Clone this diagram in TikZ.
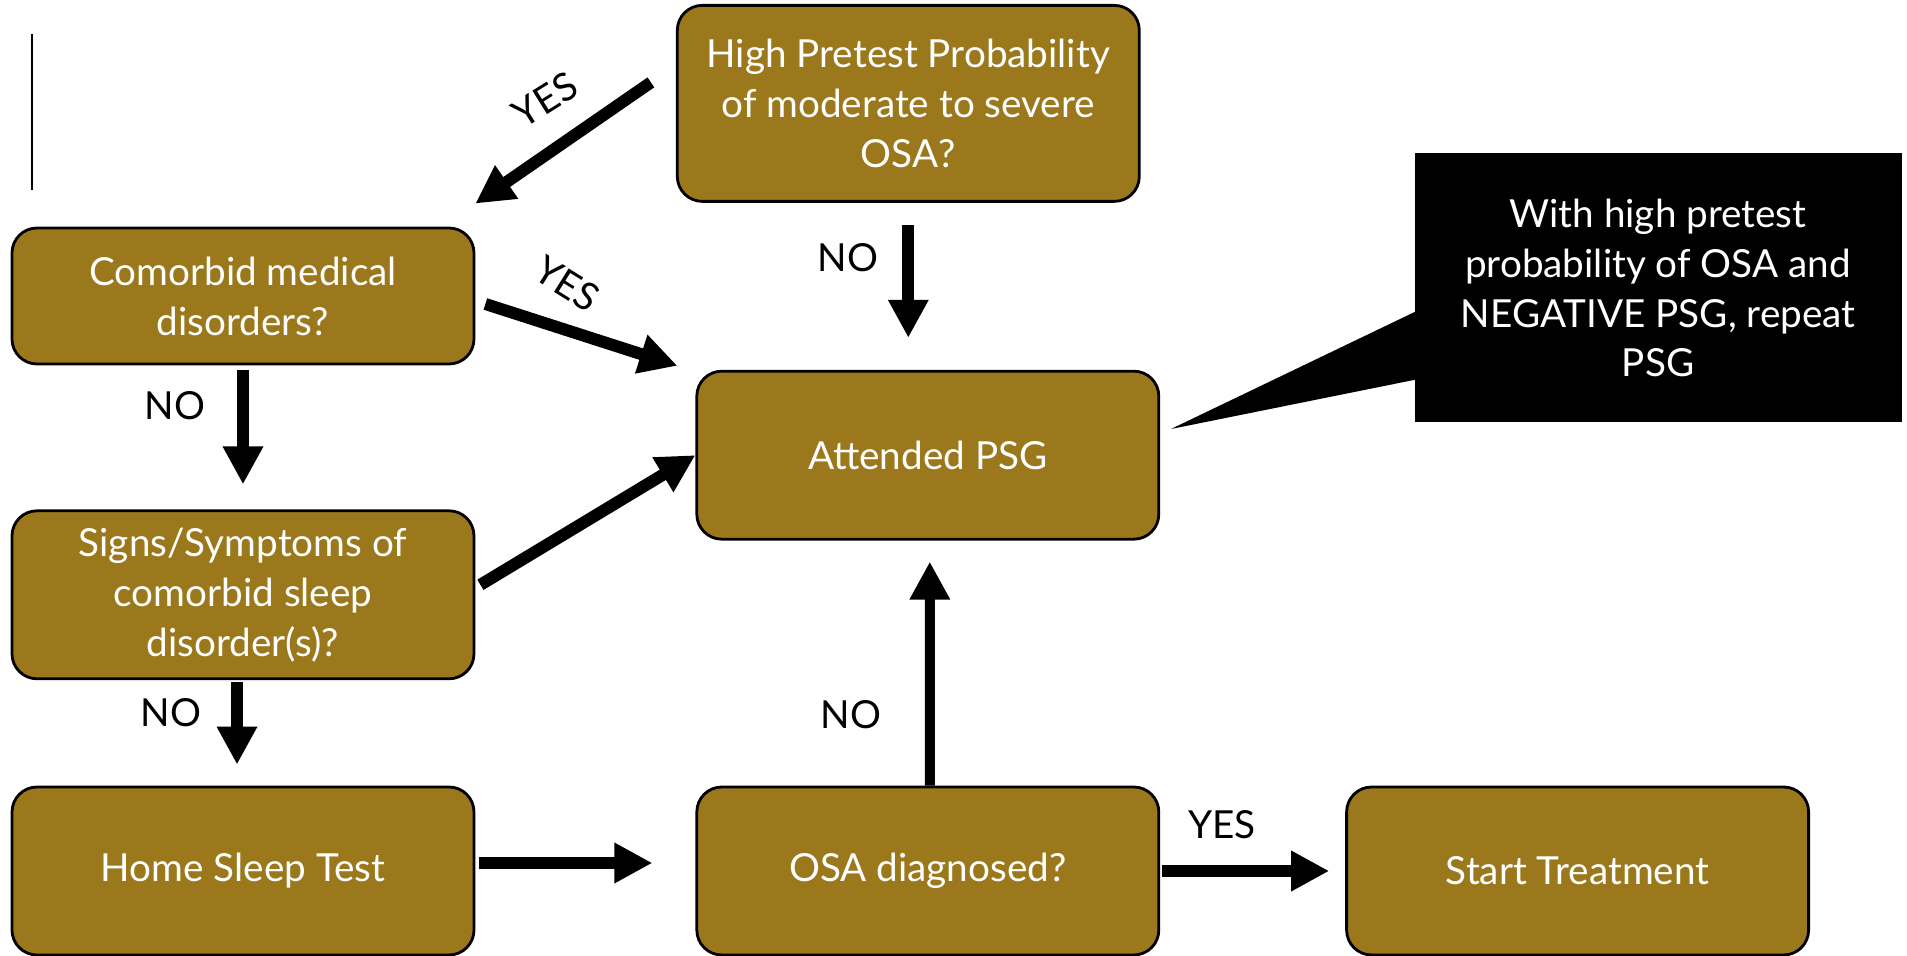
\documentclass[tikz,border=0pt]{standalone}
\usepackage{fontspec}
\setmainfont{Lato}
\usetikzlibrary{positioning,arrows.meta,calc}
\definecolor{boxgold}{RGB}{155,120,28}

\begin{document}
\begin{tikzpicture}[
    node distance=1.5cm,
    every node/.style={font=\fontsize{11}{14.2}\selectfont},
    box/.style={rectangle, draw=black, line width=0.8pt, fill=boxgold, text=white, minimum width=4.62cm, minimum height=1.68cm, align=center, rounded corners=2.5mm, inner sep=2pt},
    note/.style={rectangle, fill=black, text=white, minimum width=4.87cm, minimum height=2.69cm, align=center},
    arrow/.style={-{Triangle[length=3.8mm, width=3.8mm]}, line width=1.2mm},
    answer/.style={text=black, inner sep=0.5pt}
]

\useasboundingbox (0,0) rectangle (19.07,-9.56);

% Left column
\node[box, minimum height=1.36cm] (comorbid) at (2.43,-2.96) {Comorbid medical\\disorders?};
\node[box, below=1.44cm of comorbid] (signs) {Signs/Symptoms of\\comorbid sleep\\disorder(s)?};
\node[box] (home) at (2.43,-8.71) {Home Sleep Test};

% Middle column
\node[box, right=2.2cm of home] (osa) {OSA diagnosed?};
\node[box, above=2.45cm of osa] (psg) {Attended PSG};
\node[box, minimum height=1.96cm, above=1.67cm of psg, xshift=-1.95mm] (pretest) {High Pretest Probability\\of moderate to severe\\OSA?};

% Right side: treatment and callout
\node[box, right=1.85cm of osa] (treat) {Start Treatment};
\node[note] (note) at (16.58,-2.88) {With high pretest\\probability of OSA and\\NEGATIVE PSG, repeat\\PSG};
\coordinate (tip) at (11.71,-4.29);
\fill ($(note.west)+(0.05,-0.22)$) -- (tip) -- ($(note.west)+(0.05,-0.91)$) -- cycle;

% Stray mark top left
\draw[line width=0.6pt] (0.32,-0.34) -- (0.32,-1.90);

% Arrows
\draw[arrow] ([shift={(-0.25,0.21)}]pretest.west) -- ([yshift=2.3mm]comorbid.north east);
\draw[arrow] ([shift={(0.1,-0.08)}]comorbid.east) -- ([shift={(-0.18,0.04)}]psg.north west);
\draw[arrow] ([yshift=-2.2mm]pretest.south) -- ([yshift=3.2mm]pretest.south |- psg.north);
\draw[arrow] ([yshift=-0.5mm]comorbid.south) -- ([yshift=2.5mm]signs.north);
\draw[arrow] ([shift={(0.05,0.10)}]signs.east) -- (psg.west);
\draw[arrow] ([shift={(-0.06,-0.02)}]signs.south) -- ([shift={(-0.06,0.21)}]home.north);
\draw[arrow] ([shift={(0.04,0.08)}]home.east) -- ([shift={(-0.43,0.08)}]osa.west);
\draw[arrow, line width=1mm] ([xshift=0.2mm]osa.north) -- ([shift={(0.02,-0.21)}]psg.south);
\draw[arrow] ([xshift=0.2mm]osa.east) -- ([xshift=-1.6mm]treat.west);

% Answer labels
\node[answer, rotate=32] (yes1) at (5.45,-1.00) {YES};
\node[answer, rotate=-32] (yes2) at (5.67,-2.84) {YES};
\node[answer] (no1) at (8.48,-2.58) {NO};
\node[answer] (no2) at (1.75,-4.06) {NO};
\node[answer] (no3) at (1.71,-7.13) {NO};
\node[answer] (no4) at (8.51,-7.15) {NO};
\node[answer] (yes3) at (12.22,-8.25) {YES};

\end{tikzpicture}
\end{document}
